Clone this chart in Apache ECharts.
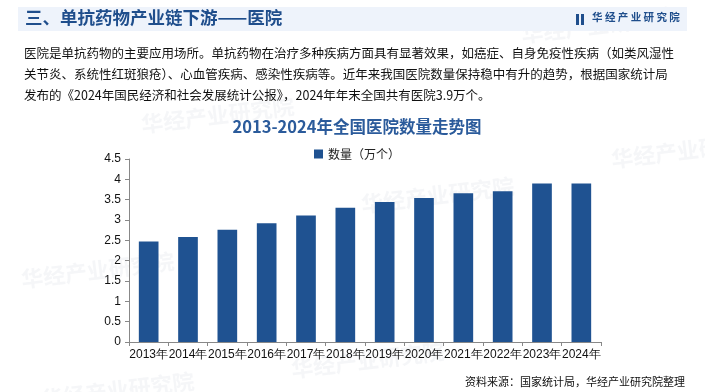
<!DOCTYPE html>
<html><head><meta charset="utf-8">
<script src="https://cdn.jsdelivr.net/npm/echarts@6/dist/echarts.min.js"></script>
<style>html,body{margin:0;padding:0;background:#fff}#c{width:705px;height:392px}</style>
</head><body><div id="c"></div>
<script>
const categories = ['2013年','2014年','2015年','2016年','2017年','2018年','2019年','2020年','2021年','2022年','2023年','2024年'];
const hospitals = [2.47, 2.58, 2.76, 2.92, 3.11, 3.30, 3.44, 3.54, 3.66, 3.71, 3.90, 3.90];
const seriesName = '数量（万个）';
const chartTitle = '2013-2024年全国医院数量走势图';
const headerTitle = '三、单抗药物产业链下游——医院';
const paragraph = [
  '医院是单抗药物的主要应用场所。单抗药物在治疗多种疾病方面具有显著效果，如癌症、自身免疫性疾病（如类风湿性',
  '关节炎、系统性红斑狼疮）、心血管疾病、感染性疾病等。近年来我国医院数量保持稳中有升的趋势，根据国家统计局',
  '发布的《2024年国民经济和社会发展统计公报》，2024年年末全国共有医院3.9万个。'
];
const sourceText = '资料来源：国家统计局，华经产业研究院整理';
const logoText = '华 经 产 业 研 究 院';

const CJK = '"Noto Sans CJK SC", sans-serif';
const chart = echarts.init(document.getElementById('c'));
const wm = [];
[[20,250],[360,175],[140,95],[520,5],[290,340],[40,370],[610,130]].forEach(p=>{
  wm.push({type:'text', left:p[0], top:p[1], rotation:0.12, silent:true, z:0,
    style:{text:'华经产业研究院', fill:'rgba(190,195,205,0.15)', font:'bold 22px '+CJK}});
});
chart.setOption({
  animation:false,
  textStyle:{fontFamily:CJK},
  title:{text:chartTitle, left:352, textAlign:'center', top:113,
    textStyle:{fontSize:16.5, fontWeight:'bold', color:'#2b5b9b', fontFamily:CJK}},
  legend:{top:143, left:309, itemWidth:9, itemHeight:9, icon:'rect', itemGap:6,
    textStyle:{fontSize:12, color:'#222', fontFamily:CJK}, data:[seriesName]},
  grid:{left:129, right:104, top:159, bottom:50, containLabel:false},
  xAxis:{type:'category', data:categories,
    axisLine:{lineStyle:{color:'#888'}}, axisTick:{show:true, length:4, lineStyle:{color:'#888'}},
    axisLabel:{fontSize:12, color:'#111', margin:7, interval:0, fontFamily:'"Liberation Sans", Arial, sans-serif'}},
  yAxis:{type:'value', min:0, max:4.5, interval:0.5,
    axisLine:{show:true, lineStyle:{color:'#888'}}, axisTick:{show:true, length:4, lineStyle:{color:'#888'}},
    splitLine:{show:false},
    axisLabel:{fontSize:12, color:'#111', margin:8, fontFamily:'"Liberation Sans", Arial, sans-serif'}},
  series:[{name:seriesName, type:'bar', data:hospitals, barWidth:'50%',
    itemStyle:{color:'#1f5291'}}],
  graphic:[
    ...wm,
    {type:'rect', shape:{x:18,y:7,width:669,height:24}, style:{fill:'#eef3fb'}, z:1},
    {type:'text', left:25, top:9, z:2, style:{text:headerTitle, fill:'#1f4e8c', font:'bold 17.5px '+CJK}},
    {type:'rect', shape:{x:576,y:14,width:3,height:11}, style:{fill:'#1f4e8c'}, z:2},
    {type:'rect', shape:{x:581,y:14,width:3,height:11}, style:{fill:'#1f4e8c'}, z:2},
    {type:'text', left:592, top:12, z:2, style:{text:logoText, fill:'#1f4e8c', font:'bold 10.5px '+CJK}},
    {type:'text', left:24, top:43, z:2, style:{text:paragraph.join('\n'), fill:'#111', font:'12.5px '+CJK, lineHeight:21}},
    {type:'text', right:20, top:376, z:2, style:{text:sourceText, fill:'#111', font:'11px '+CJK}}
  ]
});
</script></body></html>
